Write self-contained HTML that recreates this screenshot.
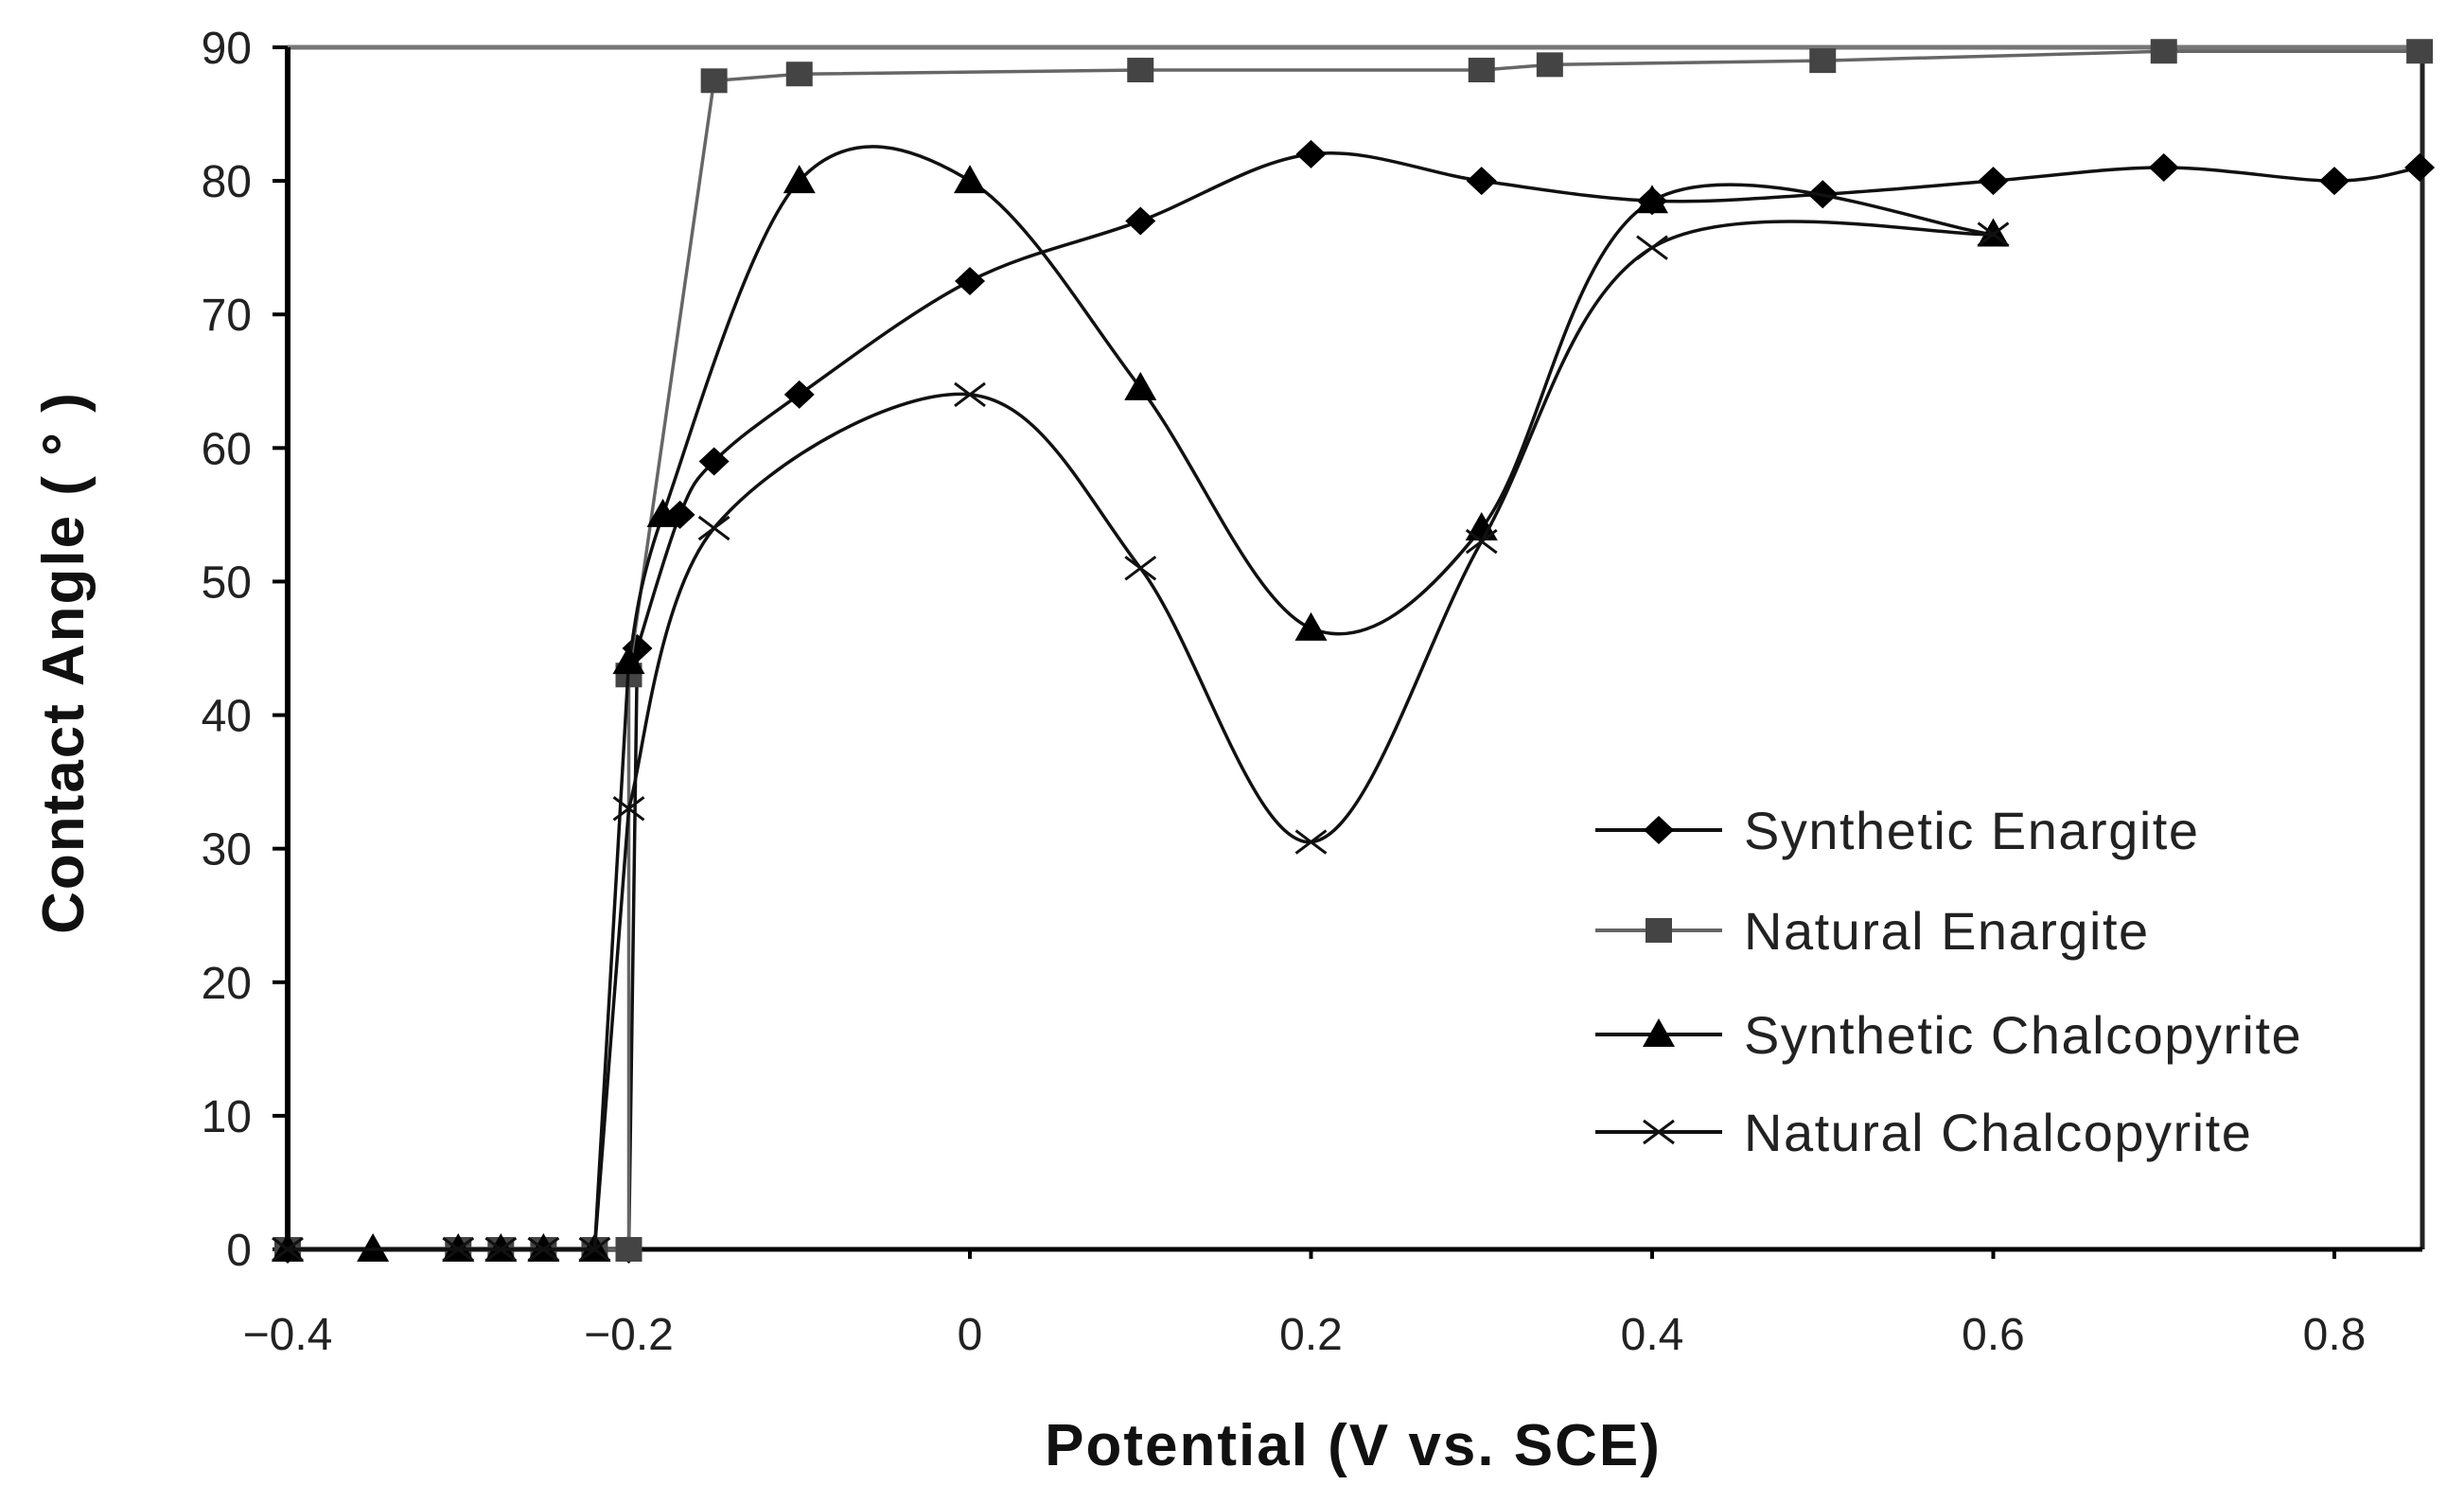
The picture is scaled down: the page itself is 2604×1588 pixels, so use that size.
<!DOCTYPE html>
<html><head><meta charset="utf-8"><style>
body{margin:0;background:#fff}
svg{display:block;font-family:"Liberation Sans",sans-serif}
</style></head><body>
<svg id="chart" width="2604" height="1588" viewBox="0 0 2604 1588" xmlns="http://www.w3.org/2000/svg">
<rect width="2604" height="1588" fill="#fff"/>
<g id="plot"></g>
</svg>
<script>
const xTicks=[-0.4,-0.2,0,0.2,0.4,0.6,0.8];
const xTickLabels=["\u22120.4","\u22120.2","0","0.2","0.4","0.6","0.8"];
const yTicks=[0,10,20,30,40,50,60,70,80,90];
const seNames=["Synthetic Enargite","Natural Enargite","Synthetic Chalcopyrite","Natural Chalcopyrite"];
const seX=[-0.4,-0.2,-0.195,-0.17,-0.15,-0.1,0,0.1,0.2,0.3,0.4,0.5,0.6,0.7,0.8,0.85];
const seY=[0,0,45,55,59,64,72.5,77,82,80,78.5,79,80,81,80,81];
const neX=[-0.4,-0.3,-0.275,-0.25,-0.22,-0.2,-0.2,-0.15,-0.1,0.1,0.3,0.34,0.5,0.7,0.85];
const neY=[0,0,0,0,0,0,43,87.5,88,88.3,88.3,88.7,89,89.7,89.7];
const scX=[-0.4,-0.35,-0.3,-0.275,-0.25,-0.22,-0.2,-0.18,-0.1,0,0.1,0.2,0.3,0.4,0.6];
const scY=[0,0,0,0,0,0,44,55,80,80,64.5,46.5,54,78.5,76];
const ncX=[-0.4,-0.3,-0.275,-0.25,-0.22,-0.2,-0.15,0,0.1,0.2,0.3,0.4,0.6];
const ncY=[0,0,0,0,0,33,54,64,51,30.5,53,75,76];

const L=304,R=2560,T=50,B=1320;
const xs=v=>L+(v+0.4)/1.2*(2467-L);
const ys=v=>B-v/90*(B-T);
const NS="http://www.w3.org/2000/svg";
const g=document.getElementById('plot');
function mk(tag,attrs,parent){const e=document.createElementNS(NS,tag);for(const k in attrs)e.setAttribute(k,attrs[k]);(parent||g).appendChild(e);return e;}

let e;
e=mk('line',{x1:L,y1:T,x2:R,y2:T,stroke:'#777','stroke-width':5});

e=mk('line',{x1:R,y1:T,x2:R,y2:B,stroke:'#222','stroke-width':5});

e=mk('line',{x1:L,y1:T,x2:L,y2:B,stroke:'#000','stroke-width':6});

e=mk('line',{x1:L-10,y1:B,x2:R,y2:B,stroke:'#000','stroke-width':5});


yTicks.forEach(v=>{
 mk('line',{x1:L-16,y1:ys(v),x2:L,y2:ys(v),stroke:'#000','stroke-width':4});
 const t=mk('text',{x:266,y:ys(v)+17,'text-anchor':'end','font-size':48,fill:'#222'});
 t.textContent=v;
 
 
});
xTicks.forEach((v,i)=>{
 mk('line',{x1:xs(v),y1:B,x2:xs(v),y2:B+10,stroke:'#000','stroke-width':4});
 const t=mk('text',{x:xs(v),y:1426,'text-anchor':'middle','font-size':48,fill:'#222'});
 t.textContent=xTickLabels[i];
 
 
});
e=mk('text',{x:1430,y:1548,'text-anchor':'middle','font-size':62,'font-weight':'bold',fill:'#111','letter-spacing':2});
e.textContent='Potential (V vs. SCE)';

e=mk('text',{x:0,y:0,'text-anchor':'middle','font-size':62,'font-weight':'bold',fill:'#111','letter-spacing':2,transform:'translate(88,700) rotate(-90)'});
e.textContent='Contact Angle ( \u00b0 )';


function pathFor(X,Y,smoothFrom){
 const p=X.map((x,i)=>[xs(x),ys(Y[i])]);
 let d='M'+p[0][0]+','+p[0][1];
 for(let i=0;i<p.length-1;i++){
  if(i<smoothFrom){d+=` L${p[i+1][0]},${p[i+1][1]}`;continue;}
  const p0=p[Math.max(i-1,smoothFrom)],p1=p[i],p2=p[i+1],p3=p[Math.min(i+2,p.length-1)];
  const c1=[p1[0]+(p2[0]-p0[0])/6,p1[1]+(p2[1]-p0[1])/6];
  const c2=[p2[0]-(p3[0]-p1[0])/6,p2[1]-(p3[1]-p1[1])/6];
  d+=` C${c1[0]},${c1[1]} ${c2[0]},${c2[1]} ${p2[0]},${p2[1]}`;
 }
 return d;
}
function marker(type,cx,cy,color,parent){
 let m;
 if(type==='diamond') m=mk('polygon',{points:`${cx},${cy-15} ${cx+16},${cy} ${cx},${cy+15} ${cx-16},${cy}`,fill:color},parent);
 else if(type==='square') m=mk('rect',{x:cx-14,y:cy-13,width:28,height:26,fill:color},parent);
 else if(type==='triangle') m=mk('polygon',{points:`${cx},${cy-17} ${cx+17},${cy+13} ${cx-17},${cy+13}`,fill:color},parent);
 else m=mk('path',{d:`M${cx-16},${cy-12}L${cx+16},${cy+12}M${cx-16},${cy+12}L${cx+16},${cy-12}`,stroke:color,'stroke-width':3,fill:'none'},parent);
 return m;
}
const series=[
 {X:seX,Y:seY,type:'diamond',color:'#000',sf:2,name:'synthetic-enargite'},
 {X:neX,Y:neY,type:'square',color:'#444',sf:999,name:'natural-enargite'},
 {X:scX,Y:scY,type:'triangle',color:'#000',sf:6,name:'synthetic-chalcopyrite'},
 {X:ncX,Y:ncY,type:'cross',color:'#111',sf:5,name:'natural-chalcopyrite'}
];
series.forEach(s=>{
 const grp=mk('g',{});
 
 
 mk('path',{d:pathFor(s.X,s.Y,s.sf),fill:'none',stroke:s.type==='square'?'#666':'#111','stroke-width':3.5},grp);
 s.X.forEach((x,i)=>{
  const m=marker(s.type,xs(x),ys(s.Y[i]),s.color,grp);
  
  
 });
});
const legY=[877,983,1093,1196];
const lg=mk('g',{});


series.forEach((s,i)=>{
 const y=legY[i];
 const row=mk('g',{},lg);
 
 
 mk('line',{x1:1686,y1:y,x2:1820,y2:y,stroke:s.type==='square'?'#666':'#111','stroke-width':4},row);
 marker(s.type,1753,y,s.color,row);
 const t=mk('text',{x:1843,y:y+20,'font-size':56,fill:'#222','letter-spacing':1.5},row);
 t.textContent=seNames[i];
});
</script>
</body></html>
